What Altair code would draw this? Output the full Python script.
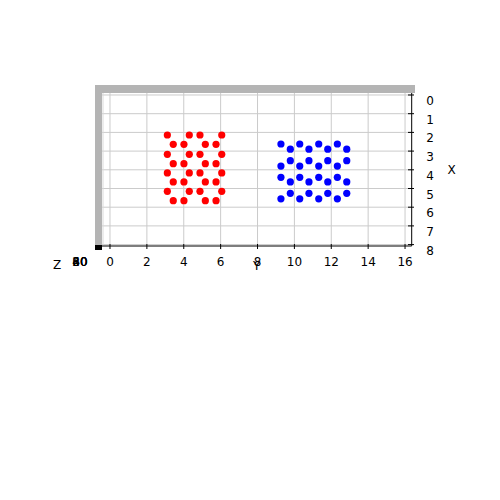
import altair as alt
import pandas as pd

# ---- data ----
red_x = [2.14, 2.14, 2.14, 2.14, 2.64, 2.64, 2.64, 2.64,
         3.17, 3.17, 3.17, 3.17, 3.67, 3.67, 3.67, 3.67,
         4.17, 4.17, 4.17, 4.17, 4.65, 4.65, 4.65, 4.65,
         5.15, 5.15, 5.15, 5.15, 5.65, 5.65, 5.65, 5.65]
red_y = [3.11, 4.30, 4.88, 6.06, 3.43, 4.01, 5.17, 5.75,
         3.11, 4.30, 4.88, 6.06, 3.43, 4.01, 5.17, 5.75,
         3.11, 4.30, 4.88, 6.06, 3.43, 4.01, 5.17, 5.75,
         3.11, 4.30, 4.88, 6.06, 3.43, 4.01, 5.17, 5.75]
blue_x = [2.62, 2.62, 2.62, 2.62, 2.90, 2.90, 2.90, 2.90,
          3.51, 3.51, 3.51, 3.51, 3.80, 3.80, 3.80, 3.80,
          4.40, 4.40, 4.40, 4.40, 4.65, 4.65, 4.65, 4.65,
          5.26, 5.26, 5.26, 5.26, 5.55, 5.55, 5.55, 5.55]
blue_y = [9.27, 10.29, 11.32, 12.33, 9.78, 10.79, 11.81, 12.84,
          9.78, 10.79, 11.81, 12.84, 9.27, 10.29, 11.32, 12.33,
          9.27, 10.29, 11.32, 12.33, 9.78, 10.79, 11.81, 12.84,
          9.78, 10.79, 11.81, 12.84, 9.27, 10.29, 11.32, 12.33]
y_ticks = [0, 2, 4, 6, 8, 10, 12, 14, 16]
x_ticks = [0, 1, 2, 3, 4, 5, 6, 7, 8]
z_labels = ["20", "40", "60", "80"]

W, H = 340, 180
xs = alt.Scale(domain=[-1.0846, 17.354], nice=False, zero=False)
ys = alt.Scale(domain=[-0.8021, 8.8235], nice=False, zero=False, reverse=True)

pts = pd.DataFrame({
    "Y": red_y + blue_y,
    "X": red_x + blue_x,
    "c": ["red"] * len(red_y) + ["blue"] * len(blue_y),
})
yt = pd.DataFrame({"Y": y_ticks, "lab": [str(v) for v in y_ticks]})
xt = pd.DataFrame({"X": x_ticks, "lab": [str(v) for v in x_ticks]})
zt = pd.DataFrame({"lab": z_labels})
one = pd.DataFrame({"a": [0]})

GRID = "#cbcbcb"
PANE = "#b4b4b4"
FONT = "DejaVu Sans"
FS = 12

# panes
left_pane = alt.Chart(one).mark_rect(color=PANE).encode(
    x=alt.value(5), x2=alt.value(12), y=alt.value(5), y2=alt.value(165))
top_pane = alt.Chart(one).mark_rect(color=PANE).encode(
    x=alt.value(5), x2=alt.value(325), y=alt.value(5), y2=alt.value(13))
pane_edge = alt.Chart(one).mark_rule(color="#d9d9d9", strokeWidth=1).encode(
    x=alt.value(13), y=alt.value(13), y2=alt.value(165))
corner = alt.Chart(one).mark_rect(color="black").encode(
    x=alt.value(5), x2=alt.value(12), y=alt.value(165), y2=alt.value(170))

# grid
vgrid = alt.Chart(yt).mark_rule(color=GRID, strokeWidth=1).encode(
    x=alt.X("Y:Q", scale=xs, axis=None), y=alt.value(13), y2=alt.value(165))
hgrid = alt.Chart(xt).mark_rule(color=GRID, strokeWidth=1).encode(
    y=alt.Y("X:Q", scale=ys, axis=None), x=alt.value(12), x2=alt.value(321.7))

# axis lines
bottom_line = alt.Chart(one).mark_rule(color="black", strokeWidth=1).encode(
    x=alt.value(12), x2=alt.value(321.7), y=alt.value(166))
right_line = alt.Chart(one).mark_rule(color="black", strokeWidth=1).encode(
    x=alt.value(321.7), y=alt.value(13), y2=alt.value(166))

# ticks
bticks = alt.Chart(yt).mark_rule(color="black", strokeWidth=1).encode(
    x=alt.X("Y:Q", scale=xs, axis=None), y=alt.value(164), y2=alt.value(169))
rticks = alt.Chart(xt).mark_rule(color="black", strokeWidth=1).encode(
    y=alt.Y("X:Q", scale=ys, axis=None), x=alt.value(318), x2=alt.value(324))

# tick labels
blabels = alt.Chart(yt).mark_text(font=FONT, fontSize=FS, baseline="middle", align="center").encode(
    x=alt.X("Y:Q", scale=xs, axis=None), y=alt.value(182), text="lab:N")
rlabels = alt.Chart(xt).mark_text(font=FONT, fontSize=FS, baseline="middle", align="center", dy=6).encode(
    y=alt.Y("X:Q", scale=ys, axis=None), x=alt.value(340), text="lab:N")
zlabels = alt.Chart(zt).mark_text(font=FONT, fontSize=FS, baseline="middle", align="center").encode(
    x=alt.value(-10), y=alt.value(182), text="lab:N")

# axis titles
ttl_y = alt.Chart(one).mark_text(font=FONT, fontSize=FS, text="Y").encode(
    x=alt.value(166.7), y=alt.value(186))
ttl_x = alt.Chart(one).mark_text(font=FONT, fontSize=FS, text="X").encode(
    x=alt.value(361.7), y=alt.value(90))
ttl_z = alt.Chart(one).mark_text(font=FONT, fontSize=FS, text="Z").encode(
    x=alt.value(-33), y=alt.value(185))

points = alt.Chart(pts).mark_circle(size=52, opacity=1).encode(
    x=alt.X("Y:Q", scale=xs, axis=None),
    y=alt.Y("X:Q", scale=ys, axis=None),
    color=alt.Color("c:N", scale=alt.Scale(domain=["red", "blue"], range=["#ff0000", "#0000ff"]), legend=None),
)

chart = alt.layer(
    vgrid, hgrid, pane_edge, left_pane, top_pane, corner,
    bottom_line, right_line, bticks, rticks,
    points, blabels, rlabels, zlabels, ttl_y, ttl_x, ttl_z,
).properties(
    width=W, height=H,
    padding={"left": 90, "top": 80, "right": 70, "bottom": 240},
    autosize=alt.AutoSizeParams(type="none"),
    background="white",
).configure_view(stroke=None)

chart.save("out.html", embed_options={"renderer": "svg", "actions": False})
